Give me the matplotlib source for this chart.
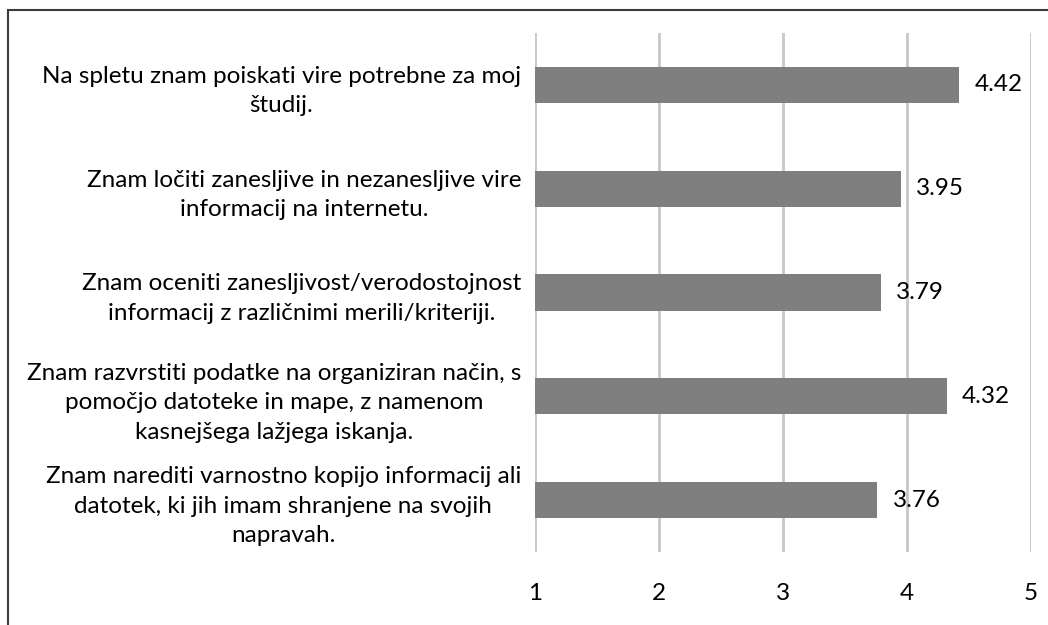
import matplotlib
matplotlib.use("Agg")
import matplotlib.pyplot as plt
from matplotlib.patches import Rectangle

# trditve in povprečne ocene
statements = [
    "Na spletu znam poiskati vire potrebne za moj\nštudij.",
    "Znam ločiti zanesljive in nezanesljive vire\ninformacij na internetu.",
    "Znam oceniti zanesljivost/verodostojnost\ninformacij z različnimi merili/kriteriji.",
    "Znam razvrstiti podatke na organiziran način, s\npomočjo datoteke in mape, z namenom\nkasnejšega lažjega iskanja.",
    "Znam narediti varnostno kopijo informacij ali\ndatotek, ki jih imam shranjene na svojih\nnapravah.",
]
scores = [4.42, 3.95, 3.79, 4.32, 3.76]
x_ticks = [1, 2, 3, 4, 5]

plt.rcParams['font.family'] = ['Lato', 'DejaVu Sans']
FS = 17.5

W, H = 1048, 625
fig = plt.figure(figsize=(W / 100, H / 100), dpi=100)
ax = fig.add_axes([535 / W, 1 - 552 / H, (1031 - 535) / W, (552 - 33) / H])

ypos = list(range(len(statements)))
ax.barh(ypos, [s - 1 for s in scores], left=1, height=0.35, color="#7f7f7f", zorder=3)

for y, s in zip(ypos, scores):
    ax.annotate(f"{s:.2f}", (s, y), xytext=(11, 0), textcoords="offset points",
                va="center", ha="left", fontsize=FS, color="#000000", zorder=4)

ax.set_xlim(1, 5)
ax.set_ylim(len(statements) - 0.5, -0.5)
ax.set_xticks(x_ticks)
ax.set_xticklabels([str(t) for t in x_ticks], fontsize=FS)
ax.set_yticks(ypos)
ax.set_yticklabels(statements, fontsize=FS, multialignment="center", linespacing=1.5)

ax.grid(axis="x", color="#c8c8c8", linewidth=2, zorder=0)
ax.tick_params(axis="both", length=0)
ax.tick_params(axis="x", pad=22)
ax.tick_params(axis="y", pad=10)
for sp in ax.spines.values():
    sp.set_visible(False)

# okvir slike
fig.patches.append(Rectangle((8 / W, -0.1), 1.2, 1.1 - 10 / H, transform=fig.transFigure,
                             fill=False, edgecolor="#3c3c3c", linewidth=1.5))

fig.savefig("out.png", dpi=100)
